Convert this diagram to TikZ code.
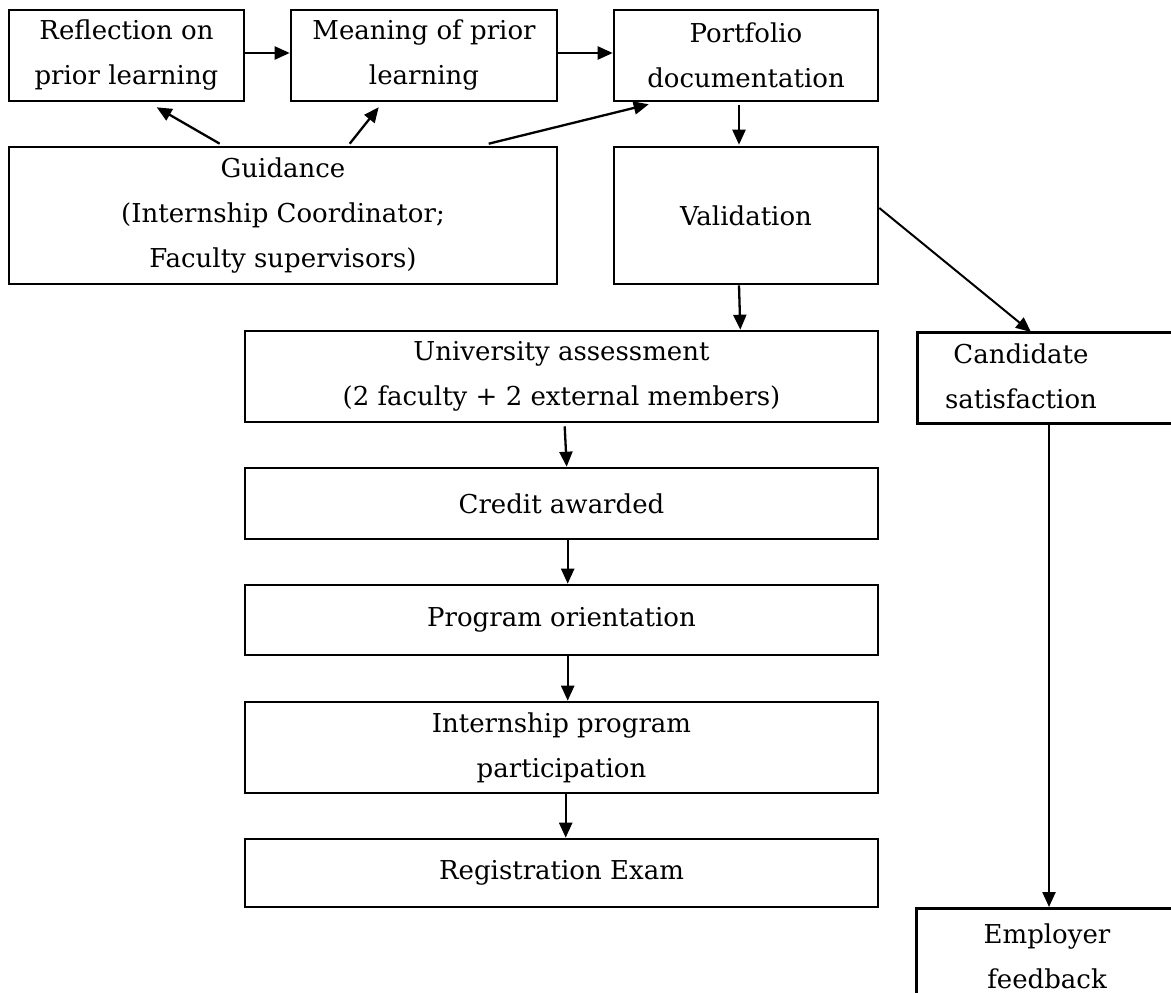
\documentclass[tikz,border=0pt]{standalone}
\usepackage{fontspec}
\setmainfont{DejaVu Serif}
\usetikzlibrary{arrows.meta,calc}
\begin{document}
\begin{tikzpicture}[x={(1bp,0)}, y={(0,-1bp)},
  boxnode/.style={draw, line width=2.6bp, inner sep=0pt, align=center,
    font=\fontsize{26bp}{45bp}\selectfont},
  txtnode/.style={inner sep=0pt, align=center, font=\fontsize{26bp}{45bp}\selectfont},
  arr/.style={line width=2.3bp, -{Triangle[length=15bp,width=13bp]}}]
\useasboundingbox (0,0) rectangle (1171,993);
\fill[white] (0,0) rectangle (1171,993);
\clip (0,0) rectangle (1171,993);

\node[boxnode, minimum width=235bp, minimum height=91bp] (refl) at (126.5,55.5) {Reflection on\\prior learning};
\node[boxnode, minimum width=266bp, minimum height=91bp] (mean) at (424,55.5) {Meaning of prior\\learning};
\node[boxnode, minimum width=264bp, minimum height=91bp] (port) at (746,55.5) {Portfolio\\documentation};
\node[boxnode, minimum width=548bp, minimum height=137bp] (guid) at (283,215.5) {Guidance\\(Internship Coordinator;\\Faculty supervisors)};
\node[boxnode, minimum width=264bp, minimum height=137bp] (vali) at (746,215.5) {Validation};
\node[boxnode, minimum width=633bp, minimum height=91bp] (univ) at (561.5,376.5) {University assessment\\(2 faculty + 2 external members)};
\node[boxnode, minimum width=300bp, minimum height=91bp, anchor=north west] (candbox) at (916,331) {};
\node[txtnode] (cand) at (1021,376.5) {Candidate\\satisfaction};
\node[boxnode, minimum width=633bp, minimum height=71bp] (cred) at (561.5,503.5) {Credit awarded};
\node[boxnode, minimum width=633bp, minimum height=70bp] (prog) at (561.5,620) {Program orientation};
\node[boxnode, minimum width=633bp, minimum height=91bp] (intern) at (561.5,747.5) {Internship program\\participation};
\node[boxnode, minimum width=633bp, minimum height=68bp] (reg) at (561.5,873) {Registration Exam};
\node[boxnode, minimum width=300bp, minimum height=140bp, anchor=north west] (empbox) at (915,907) {};
\node[txtnode] (emp) at (1047,956) {Employer\\feedback};

\draw[arr] ($(refl.east)+(-2,-2.5)$) -- ($(mean.west)+(0,-2.5)$);
\draw[arr] ($(mean.east)+(0,-2.5)$) -- ($(port.west)+(0,-2.5)$);
\draw[arr] ($(guid.north west)+(212,-2)$) -- ($(refl.south west)+(149,5)$);
\draw[arr] ($(guid.north west)+(342,-2)$) -- ($(mean.south west)+(89,5)$);
\draw[arr] ($(guid.north west)+(481,-2)$) -- ($(port.south west)+(36,2)$);
\draw[arr] ($(port.south)+(-7,3)$) -- ($(vali.north)+(-7,-1)$);
\draw[arr] ($(vali.south)+(-7,0)$) -- ($(univ.north east)+(-139,0)$);
\draw[arr, line width=2bp] ($(vali.east)+(0,-7.5)$) -- ($(candbox.north west)+(115,1)$);
\draw[arr] ($(univ.south west)+(321,3)$) -- ($(cred.north west)+(323,0)$);
\draw[arr] ($(cred.south west)+(324,0)$) -- ($(prog.north west)+(324,0)$);
\draw[arr] ($(prog.south west)+(324,0)$) -- ($(intern.north west)+(324,0)$);
\draw[arr] ($(intern.south west)+(322,0)$) -- ($(reg.north west)+(322,0)$);
\draw[arr] ($(candbox.south west)+(133,0)$) -- ($(empbox.north west)+(134,0)$);
\end{tikzpicture}
\end{document}
